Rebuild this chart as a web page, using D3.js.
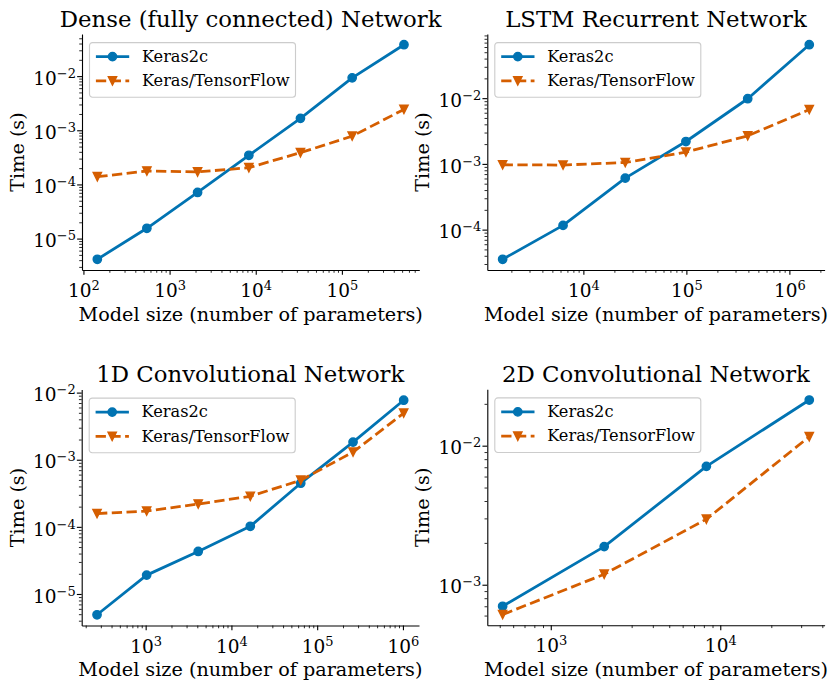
<!DOCTYPE html>
<html><head><meta charset="utf-8">
<script src="https://cdn.jsdelivr.net/npm/d3@7"></script>
<style>
html,body{margin:0;padding:0;background:#fff;}
svg{display:block;}
svg text{font-family:"DejaVu Serif",serif;}
</style></head>
<body>
<svg id="chart" width="838" height="689"></svg>
<script>
// ---------------- data ----------------
const titles = ["Dense (fully connected) Network", "LSTM Recurrent Network", "1D Convolutional Network", "2D Convolutional Network"];
const seriesNames = ["Keras2c", "Keras/TensorFlow"];
const xLabel = "Model size (number of parameters)";
const yLabel = "Time (s)";

const denseParams   = [145, 545, 2113, 8321, 33025, 131585, 525313];
const denseKeras2c  = [4.15e-6, 1.55e-5, 7.1e-5, 3.45e-4, 1.66e-3, 9.3e-3, 3.8e-2];
const denseTF       = [1.39e-4, 1.77e-4, 1.70e-4, 2.04e-4, 3.86e-4, 7.8e-4, 2.43e-3];

const lstmParams    = [1645, 6350, 25500, 99000, 394000, 1560000];
const lstmKeras2c   = [3.54e-5, 1.16e-4, 6.07e-4, 2.19e-3, 9.8e-3, 6.5e-2];
const lstmTF        = [9.7e-4, 9.6e-4, 1.05e-3, 1.51e-3, 2.67e-3, 6.7e-3];

const conv1dParams  = [271, 1027, 4100, 16600, 64300, 262000, 1020000];
const conv1dKeras2c = [4.9e-6, 1.91e-5, 4.3e-5, 1.02e-4, 4.47e-4, 1.83e-3, 7.7e-3];
const conv1dTF      = [1.58e-4, 1.72e-4, 2.19e-4, 2.85e-4, 4.95e-4, 1.3e-3, 4.95e-3];

const conv2dParams  = [520, 2066, 8280, 33500];
const conv2dKeras2c = [7.0e-4, 1.88e-3, 7.1e-3, 2.13e-2];
const conv2dTF      = [6.1e-4, 1.19e-3, 2.96e-3, 1.16e-2];

// ---------------- layout / style ----------------
const panels = [
  {x: denseParams,  a: denseKeras2c,  b: denseTF},
  {x: lstmParams,   a: lstmKeras2c,   b: lstmTF},
  {x: conv1dParams, a: conv1dKeras2c, b: conv1dTF},
  {x: conv2dParams, a: conv2dKeras2c, b: conv2dTF}
];
const boxes = [
  {l: 82,    t: 34},
  {l: 487.3, t: 34},
  {l: 81.7,  t: 389.5},
  {l: 487.3, t: 389.3}
];
const PW = 337.3, PH = 236;
const colors = ["#0173b2", "#d55e00"];
const LW = 2.78, MR = 4.17;
const FONT = '"DejaVu Serif", serif';
const tickFont = 18.5, supFont = 13, labelFont = 19.2, titleFont = 22.8, legFont = 16.2;

const svg = d3.select("#chart");

function logDomain(vals) {
  const lo = Math.log10(d3.min(vals)), hi = Math.log10(d3.max(vals));
  const m = (hi - lo) * 0.05;
  return [Math.pow(10, lo - m), Math.pow(10, hi + m)];
}
function ticksFor(domain) {
  const lo = Math.floor(Math.log10(domain[0])), hi = Math.ceil(Math.log10(domain[1]));
  const major = [], minor = [];
  for (let e = lo; e <= hi; e++) {
    const p = Math.pow(10, e);
    if (p >= domain[0] && p <= domain[1]) major.push(p);
    for (let k = 2; k <= 9; k++) {
      const v = k * p;
      if (v >= domain[0] && v <= domain[1]) minor.push(v);
    }
  }
  return {major, minor};
}
function supLabel(sel, anchor) {
  sel.each(function(d) {
    const t = d3.select(this);
    const e = Math.round(Math.log10(d));
    t.text(null).attr("text-anchor", anchor).attr("dy", null)
      .style("font-family", FONT).style("font-size", tickFont + "px").attr("fill", "#000");
    t.append("tspan").text("10");
    t.append("tspan").attr("dy", -7).style("font-size", supFont + "px")
      .text(e < 0 ? "\u2212" + (-e) : String(e));
  });
}

const triangle = `M0,${MR}L${-MR},${-MR}L${MR},${-MR}Z`;

panels.forEach((p, i) => {
  const b = boxes[i];
  const g = svg.append("g").attr("transform", `translate(${b.l},${b.t})`);
  const allY = p.a.concat(p.b);
  const x = d3.scaleLog().domain(logDomain(p.x)).range([0, PW]);
  const y = d3.scaleLog().domain(logDomain(allY)).range([PH, 0]);
  const xt = ticksFor(x.domain()), yt = ticksFor(y.domain());

  // minor ticks
  const xMin = g.append("g").attr("transform", `translate(0,${PH})`)
    .call(d3.axisBottom(x).tickValues(xt.minor).tickSize(2.78).tickSizeOuter(0).tickFormat(""));
  xMin.select(".domain").remove();
  xMin.selectAll("line").attr("stroke-width", 0.83);
  const yMin = g.append("g")
    .call(d3.axisLeft(y).tickValues(yt.minor).tickSize(2.78).tickSizeOuter(0).tickFormat(""));
  yMin.select(".domain").remove();
  yMin.selectAll("line").attr("stroke-width", 0.83);

  // major axes
  const xa = g.append("g").attr("transform", `translate(0,${PH})`)
    .call(d3.axisBottom(x).tickValues(xt.major).tickSize(4.86).tickSizeOuter(0));
  xa.selectAll("line").attr("stroke-width", 1.11);
  xa.select(".domain").attr("stroke-width", 1.11);
  xa.selectAll("text").attr("y", 27).call(supLabel, "middle");

  const ya = g.append("g")
    .call(d3.axisLeft(y).tickValues(yt.major).tickSize(4.86).tickSizeOuter(0));
  ya.selectAll("line").attr("stroke-width", 1.11);
  ya.select(".domain").attr("stroke-width", 1.11);
  ya.selectAll("text").attr("x", -6).attr("y", 8.2).call(supLabel, "end");
  [xa, ya, xMin, yMin].forEach(a => a.attr("font-family", null).attr("font-size", null));

  // series
  const series = [p.a, p.b];
  series.forEach((vals, s) => {
    const pts = vals.map((v, k) => [x(p.x[k]), y(v)]);
    g.append("path").attr("d", d3.line()(pts)).attr("fill", "none")
      .attr("stroke", colors[s]).attr("stroke-width", LW)
      .attr("stroke-dasharray", s === 1 ? "10.3,4.45" : null)
      .attr("stroke-linejoin", "round").attr("stroke-linecap", s === 1 ? "butt" : "round");
    if (s === 0) {
      g.selectAll(null).data(pts).enter().append("circle")
        .attr("cx", d => d[0]).attr("cy", d => d[1]).attr("r", MR)
        .attr("fill", colors[s]).attr("stroke", colors[s]).attr("stroke-width", 1.39);
    } else {
      g.selectAll(null).data(pts).enter().append("path")
        .attr("transform", d => `translate(${d[0]},${d[1]})`).attr("d", triangle)
        .attr("fill", colors[s]).attr("stroke", colors[s]).attr("stroke-width", 1.39)
        .attr("stroke-linejoin", "miter");
    }
  });

  // title & labels
  g.append("text").attr("x", PW / 2).attr("y", -7.5).attr("text-anchor", "middle")
    .style("font-family", FONT).style("font-size", titleFont + "px").text(titles[i]);
  g.append("text").attr("x", PW / 2).attr("y", PH + 50.7).attr("text-anchor", "middle")
    .style("font-family", FONT).style("font-size", labelFont + "px").text(xLabel);
  g.append("text").attr("transform", `translate(-58,${PH / 2}) rotate(-90)`)
    .attr("text-anchor", "middle").style("font-family", FONT)
    .style("font-size", labelFont + "px").text(yLabel);

  // legend
  const lg = g.append("g").attr("transform", "translate(7.5,8.6)");
  lg.append("rect").attr("width", 206).attr("height", 54.6).attr("rx", 3)
    .attr("fill", "#fff").attr("fill-opacity", 0.8).attr("stroke", "#cccccc").attr("stroke-width", 1.11);
  seriesNames.forEach((nm, s) => {
    const ry = 14 + s * 24.3;
    lg.append("line").attr("x1", 6.4).attr("x2", 39.7).attr("y1", ry).attr("y2", ry)
      .attr("stroke", colors[s]).attr("stroke-width", LW)
      .attr("stroke-dasharray", s === 1 ? "10.3,4.45" : null);
    if (s === 0) {
      lg.append("circle").attr("cx", 23).attr("cy", ry).attr("r", MR)
        .attr("fill", colors[s]).attr("stroke", colors[s]).attr("stroke-width", 1.39);
    } else {
      lg.append("path").attr("transform", `translate(23,${ry})`).attr("d", triangle)
        .attr("fill", colors[s]).attr("stroke", colors[s]).attr("stroke-width", 1.39);
    }
    lg.append("text").attr("x", 52.4).attr("y", ry + 5.2)
      .style("font-family", FONT).style("font-size", legFont + "px").text(nm);
  });
});
</script>
</body></html>
